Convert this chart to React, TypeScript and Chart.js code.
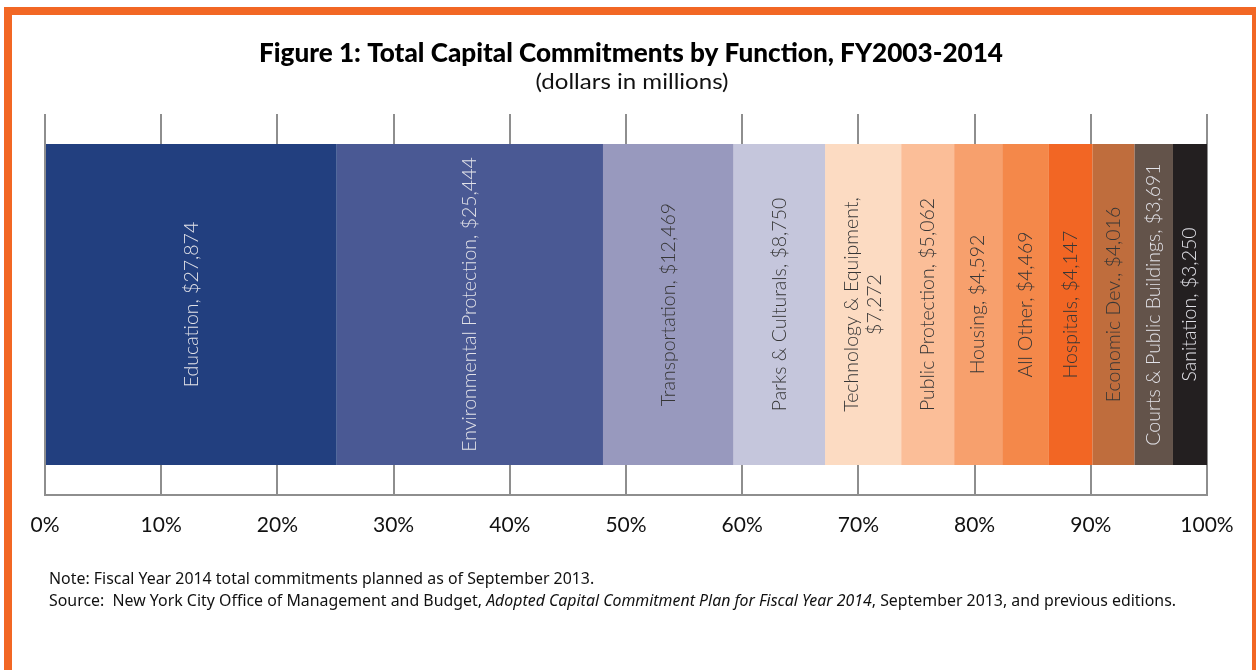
import React, { useEffect, useRef } from "react";
import { Chart, registerables } from "chart.js";

Chart.register(...registerables);

// ---- Data ----
const categories = [
  "Education",
  "Environmental Protection",
  "Transportation",
  "Parks & Culturals",
  "Technology & Equipment",
  "Public Protection",
  "Housing",
  "All Other",
  "Hospitals",
  "Economic Dev.",
  "Courts & Public Buildings",
  "Sanitation",
];
const values = [27874, 25444, 12469, 8750, 7272, 5062, 4592, 4469, 4147, 4016, 3691, 3250];
const segmentColors = [
  "#223F7F",
  "#4A5994",
  "#9899BE",
  "#C5C6DC",
  "#FCDBC2",
  "#FBBE98",
  "#F7A06D",
  "#F4884A",
  "#F26624",
  "#BF6D3D",
  "#63534A",
  "#231F20",
];
// labels whose value goes on a second line
const wrappedLabels = ["Technology & Equipment"];
const tickStep = 10;

const titleText = "Figure 1: Total Capital Commitments by Function, FY2003-2014";
const subtitleText = "(dollars in millions)";
const noteText = "Note: Fiscal Year 2014 total commitments planned as of September 2013.";
const sourceParts = [
  { text: "Source:  New York City Office of Management and Budget, ", italic: false },
  { text: "Adopted Capital Commitment Plan for Fiscal Year 2014", italic: true },
  { text: ", September 2013, and previous editions.", italic: false },
];

const ORANGE = "#F26724";
const GRID = "#8E8E8E";

function fmt(v: number) {
  return "$" + v.toLocaleString("en-US");
}

function isDark(hex: string) {
  const r = parseInt(hex.slice(1, 3), 16);
  const g = parseInt(hex.slice(3, 5), 16);
  const b = parseInt(hex.slice(5, 7), 16);
  const l = 0.299 * r + 0.587 * g + 0.114 * b;
  return l < 128;
}

function drawFitted(
  ctx: CanvasRenderingContext2D,
  text: string,
  font: string,
  cx: number,
  baseline: number,
  targetW: number
) {
  ctx.save();
  ctx.font = font;
  const w = ctx.measureText(text).width;
  const s = targetW / w;
  ctx.translate(cx, baseline);
  ctx.scale(s, 1);
  ctx.textAlign = "center";
  ctx.textBaseline = "alphabetic";
  ctx.fillText(text, 0, 0);
  ctx.restore();
}

const textPlugin = {
  id: "textPlugin",
  afterDatasetsDraw(chart: any) {
    const ctx: CanvasRenderingContext2D = chart.ctx;
    chart.data.datasets.forEach((ds: any, i: number) => {
      const meta = chart.getDatasetMeta(i);
      const bar = meta.data[0];
      if (!bar) return;
      const p = bar.getProps(["x", "y", "base"], true);
      const cx = (p.x + p.base) / 2;
      const name = categories[i];
      const lines = wrappedLabels.includes(name)
        ? [name + ",", fmt(values[i])]
        : [name + ", " + fmt(values[i])];
      ctx.save();
      ctx.translate(cx, p.y);
      ctx.rotate(-Math.PI / 2);
      ctx.font = "300 19.5px Lato";
      ctx.fillStyle = isDark(segmentColors[i]) ? "#E2E2E8" : "#363636";
      ctx.textAlign = "center";
      ctx.textBaseline = "middle";
      lines.forEach((ln, k) => {
        ctx.fillText(ln, 0, (k - (lines.length - 1) / 2) * 23);
      });
      ctx.restore();
    });
  },
  afterDraw(chart: any) {
    const ctx: CanvasRenderingContext2D = chart.ctx;
    ctx.save();
    ctx.fillStyle = "#000000";
    drawFitted(ctx, titleText, "900 26px Lato", 631, 62, 744);
    ctx.fillStyle = "#111111";
    drawFitted(ctx, subtitleText, "400 22px Lato", 632, 89, 193);

    // notes
    const normal = "400 17px 'Noto Sans'";
    const italic = "italic 400 17px 'Noto Sans'";
    let total = 0;
    sourceParts.forEach((pt) => {
      ctx.font = pt.italic ? italic : normal;
      total += ctx.measureText(pt.text).width;
    });
    const s = 1127 / total;
    ctx.fillStyle = "#111111";
    ctx.textAlign = "left";
    ctx.textBaseline = "alphabetic";
    ctx.save();
    ctx.translate(49, 584);
    ctx.scale(s, 1);
    ctx.font = normal;
    ctx.fillText(noteText, 0, 0);
    ctx.restore();
    ctx.save();
    ctx.translate(49, 605.5);
    ctx.scale(s, 1);
    let x = 0;
    sourceParts.forEach((pt) => {
      ctx.font = pt.italic ? italic : normal;
      ctx.fillText(pt.text, x, 0);
      x += ctx.measureText(pt.text).width;
    });
    ctx.restore();
    ctx.restore();
  },
};

export default function App() {
  const ref = useRef<HTMLCanvasElement | null>(null);

  useEffect(() => {
    let chart: Chart | null = null;
    let cancelled = false;
    const total = values.reduce((a, b) => a + b, 0);

    const build = () => {
      if (cancelled || !ref.current) return;
      chart = new Chart(ref.current, {
        type: "bar",
        data: {
          labels: [""],
          datasets: categories.map((c, i) => ({
            label: c,
            data: [(values[i] / total) * 100],
            backgroundColor: segmentColors[i],
            borderWidth: 0,
            categoryPercentage: 0.842,
            barPercentage: 1,
          })),
        },
        options: {
          indexAxis: "y",
          responsive: false,
          animation: false,
          layout: { padding: { top: 114, left: 45, right: 49, bottom: 63.8 } },
          plugins: {
            legend: { display: false },
            tooltip: { enabled: false },
            title: { display: false },
          },
          scales: {
            x: {
              stacked: true,
              min: 0,
              max: 100,
              ticks: {
                stepSize: tickStep,
                callback: (v: any) => v + "%",
                color: "#111111",
                font: { family: "Lato", size: 21 },
                padding: 18,
                maxRotation: 0,
              },
              grid: { color: GRID, lineWidth: 2, drawTicks: false },
              border: { display: true, color: GRID, width: 2 },
            },
            y: {
              stacked: true,
              display: false,
            },
          },
        },
        plugins: [textPlugin],
      } as any);
    };

    const fonts = (document as any).fonts;
    if (fonts && fonts.load) {
      Promise.all([
        fonts.load("300 19px Lato"),
        fonts.load("400 21px Lato"),
        fonts.load("900 26px Lato"),
        fonts.load("400 17px 'Noto Sans'"),
        fonts.load("italic 400 17px 'Noto Sans'"),
      ])
        .catch(() => null)
        .then(build);
    } else {
      build();
    }

    return () => {
      cancelled = true;
      if (chart) chart.destroy();
    };
  }, []);

  return (
    <div
      style={{
        position: "fixed",
        left: 0,
        top: 0,
        width: 1256,
        height: 670,
        background: "#ffffff",
        overflow: "hidden",
      }}
    >
      <canvas
        ref={ref}
        width={1256}
        height={620}
        style={{ position: "absolute", left: 0, top: 0, width: 1256, height: 620 }}
      />
      <div
        style={{
          position: "absolute",
          left: 4,
          top: 7,
          width: 1256,
          height: 720,
          border: `8px solid ${ORANGE}`,
          boxSizing: "border-box",
          pointerEvents: "none",
        }}
      />
    </div>
  );
}
